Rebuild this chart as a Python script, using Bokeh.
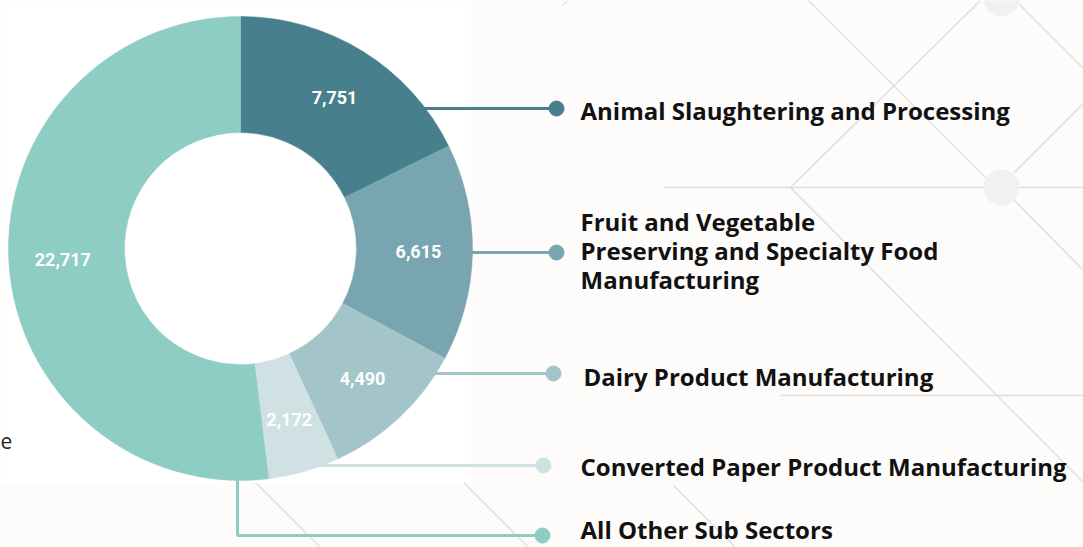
import numpy as np
from bokeh.plotting import figure
from bokeh.models import Range1d
from bokeh.core.properties import value
from bokeh.embed import file_html
from bokeh.resources import INLINE

# ---------------- data ----------------
sectors = [
    "Animal Slaughtering and Processing",
    "Fruit and Vegetable\nPreserving and Specialty Food\nManufacturing",
    "Dairy Product Manufacturing",
    "Converted Paper Product Manufacturing",
    "All Other Sub Sectors",
]
counts = [7751, 6615, 4490, 2172, 22717]
colors = ["#477F8D", "#78A5AF", "#A3C4C9", "#D0E1E4", "#8ECDC4"]
value_labels = [f"{v:,}" for v in counts]

# ---------------- layout constants (pixels, y measured from top) ----------------
W, H = 1083, 547
CX, CY = 240, 248
R_OUT, R_IN = 232, 116
LABEL_R = 178
conn_y = [108, 252, 373, 465, 535]
dot_x = [556, 556, 553, 543, 542]
text_x = [580, 580, 583, 580, 580]
text_y = [110, 250, 376, 466, 529]


def Y(y):
    return H - y


p = figure(width=W, height=H, x_range=Range1d(0, W), y_range=Range1d(0, H),
           output_backend="svg", toolbar_location=None, min_border=0,
           x_axis_location=None, y_axis_location=None)
p.grid.visible = False
p.outline_line_color = None
p.background_fill_color = "#FDFCFB"
p.border_fill_color = "#FDFCFB"

# ---------------- decorative background ----------------
deco = [
    ((808, 0), (988, 180)),
    ((980, 0), (790, 187)),
    ((790, 187), (1083, 482)),
    ((1015, 0), (1083, 68)),
    ((1014, 172), (1083, 103)),
    ((1012, 198), (1083, 270)),
    ((663, 187), (1083, 187)),
    ((780, 395), (1083, 395)),
    ((255, 482), (320, 547)),
    ((463, 482), (528, 547)),
    ((673, 485), (735, 547)),
    ((562, 5), (567, 0)),
]
p.segment(x0=[a[0] for a, b in deco], y0=[Y(a[1]) for a, b in deco],
          x1=[b[0] for a, b in deco], y1=[Y(b[1]) for a, b in deco],
          line_color="#E2DCDA", line_width=1.3)
p.circle(x=[1001, 1001], y=[Y(187), Y(-2)], radius=18,
         fill_color="#F3F1F0", line_color=None)

# white panel behind the chart
p.quad(left=0, right=470, bottom=Y(482), top=H, fill_color="#FFFFFF", line_color=None)

# page text fragment at far left
p.text(x=[0], y=[Y(440)], text=["e"], text_font=value("Open Sans"),
       text_font_size="21px", text_color="#222222", text_baseline="middle")

# ---------------- connectors ----------------
xs, ys = [], []
for i, cy in enumerate(conn_y):
    if i < 4:
        dy = abs(cy - CY)
        x0 = CX + np.sqrt(R_OUT ** 2 - dy ** 2) - 12
        xs.append([x0, dot_x[i]])
        ys.append([Y(cy), Y(cy)])
    else:
        xs.append([237, 237, dot_x[i]])
        ys.append([Y(CY + R_OUT - 12), Y(cy), Y(cy)])
p.multi_line(xs=xs, ys=ys, line_color=colors, line_width=3)
p.scatter(x=dot_x, y=[Y(v) for v in conn_y], size=15, color=colors)

# ---------------- donut ----------------
total = sum(counts)
cum = np.cumsum([0] + counts)
start = np.pi / 2 - 2 * np.pi * cum[:-1] / total
end = np.pi / 2 - 2 * np.pi * cum[1:] / total
p.annular_wedge(x=CX, y=Y(CY), inner_radius=R_IN, outer_radius=R_OUT,
                start_angle=list(start), end_angle=list(end), direction="clock",
                fill_color=colors, line_color=colors, line_width=0.5)

mid = (start + end) / 2
p.text(x=list(CX + LABEL_R * np.cos(mid)), y=list(Y(CY) + LABEL_R * np.sin(mid)),
       text=value_labels, text_color="#FFFFFF", text_font=value("Roboto"),
       text_font_style="bold", text_font_size="18px",
       text_align="center", text_baseline="middle")

# ---------------- legend labels ----------------
p.text(x=text_x, y=[Y(v) for v in text_y], text=sectors,
       text_font=value("Open Sans"), text_font_style="bold", text_font_size="24px",
       text_color="#111111", text_baseline="middle", text_line_height=0.89)

open("out.html", "w").write(file_html(p, INLINE))
